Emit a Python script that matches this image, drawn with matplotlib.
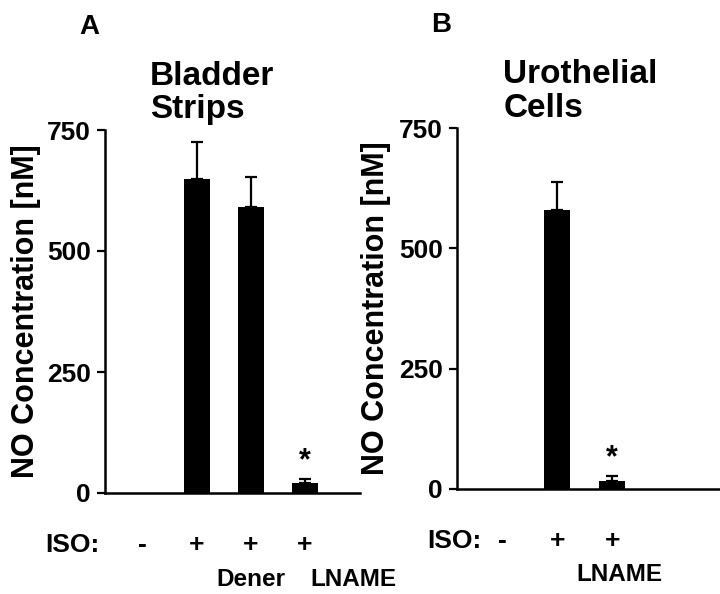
import matplotlib.pyplot as plt
import numpy as np

plt.rcParams['font.family'] = ['Liberation Sans', 'DejaVu Sans']
plt.rcParams['font.weight'] = 'bold'

#%% Data

# panel A - bladder strips
iso_a = ['-', '+', '+', '+']
mean_a = [0, 649, 591, 21]
sem_a = [0, 76, 62, 8]
sig_a = [False, False, False, True]
sub_a = [(2.0, 'Dener'), (3.9, 'LNAME')]

# panel B - urothelial cells
iso_b = ['-', '+', '+']
mean_b = [0, 579, 17]
sem_b = [0, 58, 10]
sig_b = [False, False, True]
sub_b = [(2.13, 'LNAME')]

yticks = [0, 250, 500, 750]

#%% Figure

fig = plt.figure(figsize=(7.2, 5.94), dpi=100)
W, H = 720, 594


def px_axes(left, right, top, bottom):
    return fig.add_axes([left / W, 1 - bottom / H, (right - left) / W, (bottom - top) / H])


def panel(ax, iso, mean, sem, sig, sub, xlim, letter, title, iso_x, ylab_x):
    x = np.arange(len(iso))
    err = [np.zeros(len(sem)), sem]
    ax.bar(x, mean, width=0.48, color='black')
    ax.errorbar(x[1:], np.array(mean)[1:], yerr=[e[1:] for e in err], fmt='none',
                ecolor='black', elinewidth=1.6, capsize=4.5, capthick=1.6)
    for xi, m, s, g in zip(x, mean, sem, sig):
        if g:
            ax.annotate('*', (xi, m + s), xytext=(0, 2), textcoords='offset points',
                        ha='center', va='bottom', fontsize=22, fontweight='bold')

    ax.set_xlim(*xlim)
    ax.set_ylim(0, 750)
    ax.set_yticks(yticks)
    ax.tick_params(axis='y', labelsize=19, length=6, width=1.6, pad=4)
    ax.set_xticks([])
    for sp in ['top', 'right']:
        ax.spines[sp].set_visible(False)
    ax.spines['left'].set_linewidth(1.8)
    ax.spines['bottom'].set_linewidth(1.8)

    ax.set_ylabel('NO Concentration [nM]', fontsize=22, fontweight='bold')
    ax.yaxis.set_label_coords(ylab_x, 0.5)

    # ISO row and treatment row below the axis
    tr = ax.get_xaxis_transform()
    for xi, s in zip(x, iso):
        ax.text(xi, -0.143, s, transform=tr, ha='center', va='center',
                fontsize=19, fontweight='bold', clip_on=False)
    ax.text(iso_x, -0.143, 'ISO:', transform=ax.transAxes, ha='right', va='center',
            fontsize=19, fontweight='bold')
    for xs, s in sub:
        ax.text(xs, -0.237, s, transform=tr, ha='center', va='center',
                fontsize=17.5, fontweight='bold', clip_on=False)

    ax.text(-0.06, 1.32, letter, transform=ax.transAxes, ha='center', va='top',
            fontsize=20, fontweight='bold')
    ax.text(0.176, 1.19, title, transform=ax.transAxes, ha='left', va='top',
            fontsize=24, fontweight='bold', linespacing=1.1)


ax_a = px_axes(105, 360, 130, 493)
ax_b = px_axes(457, 720, 128, 489)

panel(ax_a, iso_a, mean_a, sem_a, sig_a, sub_a, (-0.70, 4.02), 'A',
      'Bladder\nStrips', -0.02, -0.25)
panel(ax_b, iso_b, mean_b, sem_b, sig_b, sub_b, (-0.82, 3.96), 'B',
      'Urothelial\nCells', 0.095, -0.25)

fig.savefig('out.png', dpi=100)
